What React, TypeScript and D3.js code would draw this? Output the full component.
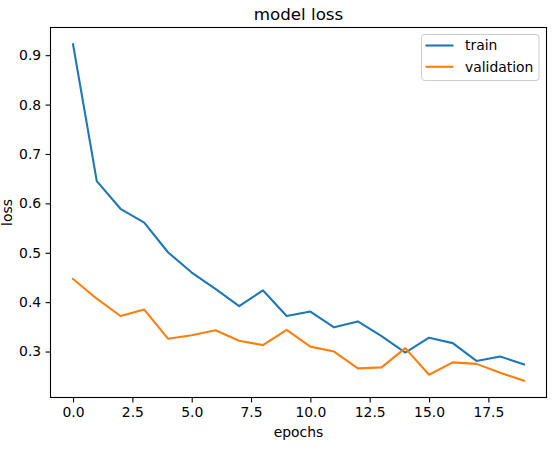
import React, { useEffect, useRef } from 'react';
import * as d3 from 'd3';

const epochs = d3.range(0, 20);
const trainLoss = [0.922, 0.645, 0.589, 0.561, 0.501, 0.46, 0.427, 0.392, 0.424, 0.372, 0.381, 0.349, 0.361, 0.331, 0.298, 0.328, 0.317, 0.281, 0.29, 0.274];
const valLoss = [0.447, 0.407, 0.372, 0.385, 0.326, 0.333, 0.343, 0.322, 0.313, 0.344, 0.31, 0.3, 0.266, 0.268, 0.307, 0.253, 0.278, 0.275, 0.257, 0.241];
const xTicks = [0, 2.5, 5, 7.5, 10, 12.5, 15, 17.5];
const yTicks = [0.3, 0.4, 0.5, 0.6, 0.7, 0.8, 0.9];
const seriesNames = ['train', 'validation'];
const colors = ['#1f77b4', '#ff7f0e'];

const App: React.FC = () => {
  const svgRef = useRef<SVGSVGElement>(null);

  useEffect(() => {
    if (!svgRef.current) return;
    const svg = d3.select(svgRef.current);
    svg.selectAll('*').remove();

    const width = 553;
    const height = 450;
    const margin = { top: 27.5, right: 6.5, bottom: 52.5, left: 50.5 };
    const font = 'DejaVu Sans, sans-serif';

    svg.attr('width', width).attr('height', height);
    svg.append('rect').attr('width', width).attr('height', height).attr('fill', 'white');

    const chartWidth = width - margin.left - margin.right;
    const chartHeight = height - margin.top - margin.bottom;

    // matplotlib-style 5% margins
    const allY = trainLoss.concat(valLoss);
    const yMin = d3.min(allY) as number;
    const yMax = d3.max(allY) as number;
    const yPad = (yMax - yMin) * 0.05;
    const xPad = (epochs.length - 1) * 0.05;

    const xScale = d3.scaleLinear()
      .domain([-xPad, epochs.length - 1 + xPad])
      .range([0, chartWidth]);
    const yScale = d3.scaleLinear()
      .domain([yMin - yPad, yMax + yPad])
      .range([chartHeight, 0]);

    const container = svg.append('g')
      .attr('transform', `translate(${margin.left}, ${margin.top})`);

    // Lines
    const lineGenerator = d3.line<number>()
      .x((_, i) => xScale(epochs[i]))
      .y(d => yScale(d));

    [trainLoss, valLoss].forEach((series, i) => {
      container.append('path')
        .datum(series)
        .attr('d', lineGenerator)
        .attr('fill', 'none')
        .attr('stroke', colors[i])
        .attr('stroke-width', 2.1)
        .attr('stroke-linejoin', 'round')
        .attr('stroke-linecap', 'square');
    });

    // Axes
    const xAxis = container.append('g')
      .attr('transform', `translate(0, ${chartHeight})`)
      .call(d3.axisBottom(xScale).tickValues(xTicks).tickFormat(d3.format('.1f')).tickSize(4.9).tickPadding(4.4));
    const yAxis = container.append('g')
      .call(d3.axisLeft(yScale).tickValues(yTicks).tickFormat(d3.format('.1f')).tickSize(4.9).tickPadding(4.4));

    [xAxis, yAxis].forEach(ax => {
      ax.select('.domain').remove();
      ax.selectAll('line').attr('stroke', 'black').attr('stroke-width', 1.1);
      ax.selectAll('text')
        .style('font-family', font)
        .style('font-size', '13.9px')
        .attr('fill', 'black');
    });

    // Frame
    container.append('rect')
      .attr('width', chartWidth)
      .attr('height', chartHeight)
      .attr('fill', 'none')
      .attr('stroke', 'black')
      .attr('stroke-width', 1.1);

    // Title and axis labels
    svg.append('text')
      .attr('x', margin.left + chartWidth / 2)
      .attr('y', 19.5)
      .attr('text-anchor', 'middle')
      .style('font-family', font)
      .style('font-size', '16.7px')
      .text('model loss');

    svg.append('text')
      .attr('x', margin.left + chartWidth / 2)
      .attr('y', 437)
      .attr('text-anchor', 'middle')
      .style('font-family', font)
      .style('font-size', '13.9px')
      .text('epochs');

    svg.append('text')
      .attr('transform', `translate(12, ${margin.top + chartHeight / 2}) rotate(-90)`)
      .attr('text-anchor', 'middle')
      .style('font-family', font)
      .style('font-size', '13.9px')
      .text('loss');

    // Legend
    const legend = svg.append('g').attr('transform', 'translate(421.5, 34.5)');
    legend.append('rect')
      .attr('width', 117.5)
      .attr('height', 46)
      .attr('rx', 3)
      .attr('fill', 'white')
      .attr('fill-opacity', 0.8)
      .attr('stroke', '#cccccc')
      .attr('stroke-width', 1);

    seriesNames.forEach((name, i) => {
      const item = legend.append('g').attr('transform', `translate(0, ${11 + i * 21.3})`);
      item.append('line')
        .attr('x1', 4).attr('x2', 32)
        .attr('stroke', colors[i])
        .attr('stroke-width', 2.1);
      item.append('text')
        .attr('x', 43.5)
        .attr('dy', '0.35em')
        .style('font-family', font)
        .style('font-size', '13.9px')
        .text(name);
    });
  }, []);

  return (
    <div style={{ position: 'absolute', left: 0, top: 0 }}>
      <svg ref={svgRef} style={{ display: 'block' }}></svg>
    </div>
  );
};

export default App;
